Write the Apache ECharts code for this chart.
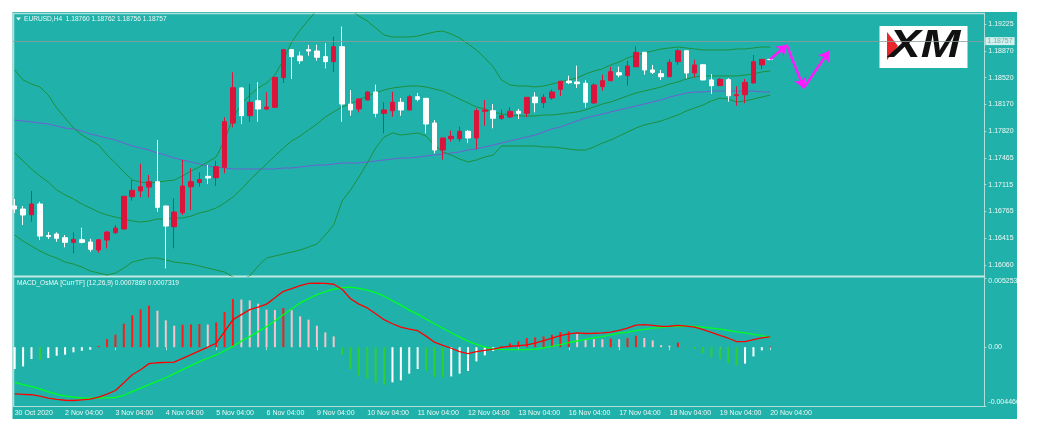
<!DOCTYPE html>
<html><head><meta charset="utf-8">
<script src="https://cdn.jsdelivr.net/npm/echarts@6/dist/echarts.min.js"></script>
<style>html,body{margin:0;padding:0;background:#fff}#c{width:1038px;height:436px}</style>
</head><body><div id="c"></div>
<script>
const dayLabels = ['30 Oct 2020','2 Nov 04:00','3 Nov 04:00','4 Nov 04:00','5 Nov 04:00','6 Nov 04:00','9 Nov 04:00','10 Nov 04:00','11 Nov 04:00','12 Nov 04:00','13 Nov 04:00','16 Nov 04:00','17 Nov 04:00','18 Nov 04:00','19 Nov 04:00','20 Nov 04:00'];
const priceTicks = [1.19225,1.18870,1.18520,1.18170,1.17820,1.17465,1.17115,1.16765,1.16415,1.16060];
const macdTicks = [0.0052537, 0, -0.004466];

const open = [1.16835,1.16795,1.16721,1.16861,1.16447,1.16467,1.16419,1.16358,1.16392,1.16362,
1.16257,1.16388,1.16484,1.16533,1.16957,1.17032,1.17084,1.17154,1.16835,1.16563,
1.16747,1.17088,1.17143,1.17225,1.17206,1.17343,1.17925,1.18385,1.18021,1.18218,
1.18109,1.18131,1.18520,1.18888,1.18805,1.18888,1.18870,1.18796,1.18730,1.18927,
1.18174,1.18109,1.18227,1.18332,1.18052,1.18086,1.18197,1.18096,1.18270,1.18249,
1.17925,1.17570,1.17719,1.17719,1.17816,1.17728,1.18079,1.18086,1.17987,1.18004,
1.18079,1.18052,1.18266,1.18191,1.18253,1.18367,1.18476,1.18463,1.18446,1.18188,
1.18402,1.18480,1.18585,1.18546,1.18664,1.18853,1.18621,1.18572,1.18533,1.18730,
1.18874,1.18581,1.18690,1.18490,1.18415,1.18494,1.18283,1.18297,1.18450,1.18687,1.18760];
const close = [1.16795,1.16717,1.16861,1.16441,1.16434,1.16411,1.16358,1.16397,1.16358,1.16266,
1.16392,1.16493,1.16546,1.16962,1.17041,1.17088,1.17154,1.16818,1.16572,1.16756,
1.17097,1.17154,1.17183,1.17203,1.17351,1.17942,1.18388,1.18021,1.18197,1.18109,
1.18135,1.18525,1.18888,1.18796,1.18743,1.18870,1.18788,1.18730,1.18927,1.18174,
1.18096,1.18240,1.18332,1.18052,1.18096,1.18197,1.18096,1.18270,1.18236,1.17912,
1.17570,1.17728,1.17750,1.17816,1.17728,1.18086,1.18096,1.17987,1.18021,1.18079,
1.18052,1.18262,1.18191,1.18262,1.18332,1.18473,1.18454,1.18441,1.18197,1.18424,
1.18480,1.18599,1.18555,1.18673,1.18853,1.18621,1.18591,1.18533,1.18722,1.18874,
1.18581,1.18687,1.18490,1.18415,1.18499,1.18283,1.18297,1.18459,1.18730,1.18761,1.18757];
const high = [1.16927,1.16835,1.17032,1.16891,1.16493,1.16489,1.16454,1.16489,1.16550,1.16405,
1.16397,1.16507,1.16585,1.16970,1.17176,1.17390,1.17242,1.17702,1.16840,1.16936,
1.17439,1.17330,1.17277,1.17373,1.17430,1.18000,1.18591,1.18394,1.18437,1.18459,
1.18328,1.18529,1.18897,1.18897,1.18861,1.18949,1.18953,1.18972,1.19058,1.19190,
1.18358,1.18245,1.18341,1.18428,1.18197,1.18336,1.18253,1.18293,1.18319,1.18253,
1.17964,1.17733,1.17824,1.17876,1.17833,1.18118,1.18227,1.18174,1.18100,1.18131,
1.18109,1.18266,1.18328,1.18306,1.18362,1.18477,1.18546,1.18677,1.18490,1.18446,
1.18559,1.18664,1.18664,1.18743,1.18932,1.18857,1.18687,1.18621,1.18765,1.18897,
1.18877,1.18756,1.18693,1.18568,1.18516,1.18512,1.18407,1.18503,1.18818,1.18765,1.18762];
const low = [1.16743,1.16585,1.16629,1.16388,1.16401,1.16366,1.16292,1.16214,1.16345,1.16235,
1.16222,1.16279,1.16467,1.16520,1.16904,1.16949,1.16949,1.16760,1.16017,1.16279,
1.16717,1.16782,1.17091,1.17124,1.17101,1.17264,1.17868,1.17912,1.17942,1.17942,
1.18096,1.18122,1.18450,1.18503,1.18700,1.18809,1.18743,1.18643,1.18591,1.17942,
1.18021,1.18065,1.18222,1.18000,1.17790,1.18008,1.18021,1.18092,1.18210,1.17790,
1.17527,1.17443,1.17679,1.17679,1.17662,1.17583,1.17889,1.17855,1.17964,1.17990,
1.17977,1.18000,1.18065,1.18122,1.18231,1.18279,1.18437,1.18385,1.18128,1.18174,
1.18349,1.18476,1.18525,1.18415,1.18656,1.18559,1.18568,1.18490,1.18529,1.18690,
1.18512,1.18525,1.18486,1.18306,1.18411,1.18205,1.18152,1.18184,1.18446,1.18634,1.18756];

const upperBand = [1.18621,1.18490,1.18437,1.18398,1.18292,1.18122,1.17991,1.17859,1.17767,1.17702,
1.17636,1.17505,1.17400,1.17282,1.17176,1.17150,1.17137,1.17150,1.17163,1.17176,
1.17229,1.17295,1.17347,1.17413,1.17478,1.17702,1.17991,1.18174,1.18292,1.18384,
1.18450,1.18555,1.18752,1.18989,1.19146,1.19278,1.19409,1.19475,1.19501,1.19475,
1.19409,1.19330,1.19264,1.19173,1.19081,1.19054,1.19054,1.19054,1.19067,1.19094,
1.19120,1.19133,1.19094,1.19041,1.18963,1.18884,1.18779,1.18661,1.18490,1.18424,
1.18411,1.18411,1.18398,1.18411,1.18437,1.18463,1.18490,1.18516,1.18568,1.18608,
1.18634,1.18687,1.18726,1.18779,1.18818,1.18844,1.18871,1.18897,1.18910,1.18923,
1.18910,1.18897,1.18884,1.18884,1.18884,1.18884,1.18897,1.18897,1.18910,1.18923,1.18923];
const middleBand = [1.17531,1.17426,1.17321,1.17229,1.17150,1.17045,1.16980,1.16927,1.16861,1.16809,
1.16756,1.16717,1.16690,1.16664,1.16638,1.16625,1.16638,1.16664,1.16664,1.16677,
1.16677,1.16703,1.16743,1.16769,1.16809,1.16874,1.16953,1.17058,1.17176,1.17282,
1.17387,1.17492,1.17597,1.17689,1.17754,1.17833,1.17912,1.18004,1.18070,1.18135,
1.18174,1.18227,1.18280,1.18319,1.18358,1.18384,1.18398,1.18411,1.18411,1.18398,
1.18371,1.18345,1.18292,1.18240,1.18188,1.18135,1.18109,1.18070,1.18043,1.18030,
1.18017,1.18017,1.18017,1.18030,1.18030,1.18043,1.18056,1.18070,1.18096,1.18135,
1.18174,1.18201,1.18240,1.18280,1.18319,1.18345,1.18371,1.18398,1.18437,1.18463,
1.18503,1.18529,1.18542,1.18542,1.18542,1.18542,1.18542,1.18555,1.18568,1.18595,1.18608];
const lowerBand = [1.16454,1.16375,1.16310,1.16244,1.16191,1.16152,1.16099,1.16073,1.16034,1.15981,
1.15955,1.15929,1.15955,1.16021,1.16099,1.16126,1.16152,1.16152,1.16126,1.16099,
1.16086,1.16073,1.16047,1.16021,1.15994,1.15968,1.15902,1.15876,1.15915,1.16047,
1.16152,1.16178,1.16205,1.16231,1.16257,1.16296,1.16336,1.16454,1.16586,1.16901,
1.17045,1.17216,1.17400,1.17597,1.17741,1.17794,1.17767,1.17780,1.17794,1.17754,
1.17636,1.17544,1.17505,1.17452,1.17413,1.17439,1.17478,1.17505,1.17623,1.17623,
1.17623,1.17623,1.17623,1.17610,1.17610,1.17597,1.17584,1.17570,1.17570,1.17610,
1.17662,1.17702,1.17754,1.17807,1.17859,1.17899,1.17925,1.17951,1.17991,1.18030,
1.18082,1.18122,1.18161,1.18214,1.18253,1.18240,1.18201,1.18214,1.18240,1.18266,1.18292];
const maLine = [1.17964,1.17951,1.17938,1.17925,1.17912,1.17885,1.17859,1.17846,1.17820,1.17780,
1.17754,1.17728,1.17702,1.17662,1.17623,1.17597,1.17570,1.17531,1.17505,1.17465,
1.17439,1.17413,1.17387,1.17360,1.17347,1.17334,1.17321,1.17321,1.17321,1.17321,
1.17321,1.17321,1.17334,1.17334,1.17347,1.17360,1.17373,1.17373,1.17387,1.17400,
1.17400,1.17400,1.17413,1.17426,1.17439,1.17452,1.17465,1.17465,1.17478,1.17492,
1.17505,1.17518,1.17531,1.17544,1.17570,1.17584,1.17610,1.17636,1.17662,1.17689,
1.17715,1.17741,1.17767,1.17807,1.17846,1.17872,1.17912,1.17951,1.17991,1.18017,
1.18043,1.18070,1.18096,1.18122,1.18148,1.18174,1.18201,1.18227,1.18266,1.18292,
1.18319,1.18332,1.18332,1.18345,1.18345,1.18345,1.18345,1.18345,1.18345,1.18332,1.18332];

const macdMain = [-0.00355,-0.00358,-0.00361,-0.00372,-0.00386,-0.00397,-0.00403,-0.00405,-0.00400,-0.00395,
-0.00380,-0.00357,-0.00329,-0.00270,-0.00209,-0.00171,-0.00125,-0.00118,-0.00115,-0.00113,
-0.00085,-0.00057,-0.00028,0.00000,0.00030,0.00118,0.00209,0.00247,0.00285,0.00304,
0.00327,0.00376,0.00424,0.00444,0.00467,0.00484,0.00487,0.00485,0.00478,0.00440,
0.00368,0.00327,0.00298,0.00254,0.00209,0.00178,0.00152,0.00137,0.00125,0.00084,
0.00038,0.00014,-0.00008,-0.00034,-0.00049,-0.00033,-0.00024,-0.00015,-0.00002,0.00007,
0.00011,0.00017,0.00030,0.00049,0.00068,0.00087,0.00101,0.00108,0.00104,0.00106,
0.00109,0.00115,0.00127,0.00144,0.00167,0.00171,0.00165,0.00158,0.00159,0.00166,
0.00160,0.00152,0.00133,0.00112,0.00090,0.00068,0.00042,0.00042,0.00057,0.00071,0.0007869];
const macdSignal = [-0.00267,-0.00285,-0.00300,-0.00317,-0.00339,-0.00357,-0.00371,-0.00380,-0.00386,-0.00387,
-0.00386,-0.00385,-0.00382,-0.00365,-0.00338,-0.00311,-0.00285,-0.00258,-0.00232,-0.00201,
-0.00171,-0.00140,-0.00110,-0.00084,-0.00059,-0.00027,0.00006,0.00046,0.00080,0.00118,
0.00156,0.00201,0.00247,0.00292,0.00336,0.00368,0.00399,0.00421,0.00440,0.00452,
0.00456,0.00446,0.00433,0.00414,0.00387,0.00353,0.00319,0.00281,0.00251,0.00213,
0.00178,0.00144,0.00110,0.00076,0.00046,0.00021,0.00000,-0.00011,-0.00016,-0.00019,
-0.00019,-0.00019,-0.00015,-0.00006,0.00006,0.00019,0.00034,0.00047,0.00060,0.00071,
0.00081,0.00093,0.00106,0.00115,0.00125,0.00135,0.00144,0.00150,0.00156,0.00159,
0.00160,0.00158,0.00152,0.00145,0.00137,0.00127,0.00116,0.00108,0.00098,0.00087,0.0007319];
const osma = [-0.00166,-0.00146,-0.00090,-0.00095,-0.00082,-0.00065,-0.00057,-0.00039,-0.00027,-0.00019,
0.00010,0.00062,0.00095,0.00178,0.00242,0.00287,0.00315,0.00277,0.00204,0.00163,
0.00171,0.00173,0.00175,0.00172,0.00188,0.00267,0.00366,0.00362,0.00355,0.00330,
0.00285,0.00283,0.00298,0.00280,0.00234,0.00209,0.00163,0.00112,0.00082,-0.00057,
-0.00166,-0.00216,-0.00239,-0.00267,-0.00285,-0.00267,-0.00252,-0.00201,-0.00166,-0.00178,
-0.00226,-0.00229,-0.00222,-0.00201,-0.00181,-0.00108,-0.00062,-0.00029,0.00008,0.00029,
0.00044,0.00070,0.00075,0.00082,0.00095,0.00115,0.00120,0.00100,0.00062,0.00061,
0.00060,0.00066,0.00060,0.00070,0.00087,0.00070,0.00052,0.00015,0.00012,0.00035,
-0.00005,-0.00014,-0.00044,-0.00077,-0.00090,-0.00120,-0.00138,-0.00125,-0.00070,-0.00024,0.000055];

const forecastSegments = [
  [[90, 1.18762], [92, 1.18949]],
  [[92, 1.18935], [94, 1.18385]],
  [[94, 1.18385], [97, 1.18870]]
];

// ---- build ----
const SLOTS = 116;
const cats = Array.from({length: SLOTS}, (_, i) => 'b' + i);
const candles = open.map((o, i) => [o, close[i], low[i], high[i]]);
const histData = osma.map((v, i) => {
  const prev = i > 0 ? osma[i - 1] : v;
  let c;
  if (v >= 0) c = v >= prev ? '#ff1a1a' : '#ffc0cb';
  else c = v < prev ? '#32cd32' : '#ffffff';
  return {value: v, itemStyle: {color: c}};
});
const last = open.length - 1;
const txt = '#eef8f7';
const FF = '"Liberation Sans", Arial, sans-serif';
const bc = '#b0dfda';
const labelIdx = (i) => i % 6 === 0 && i / 6 < dayLabels.length;

const chart = echarts.init(document.getElementById('c'), null, {renderer: 'canvas'});
chart.setOption({
  animation: false,
  backgroundColor: '#ffffff',
  grid: [
    {left: 10.5, width: 973.8, top: 14, height: 262, show: false},
    {left: 10.5, width: 973.8, top: 278, height: 128, show: false}
  ],
  xAxis: [
    {type: 'category', gridIndex: 0, data: cats, boundaryGap: true, show: false},
    {type: 'category', gridIndex: 1, data: cats, boundaryGap: true,
     axisLine: {show: false},
     axisTick: {show: true, interval: labelIdx, alignWithLabel: true, length: 3, lineStyle: {color: bc}},
     axisLabel: {interval: labelIdx, formatter: (v, i) => dayLabels[i / 6] || '', align: 'left',
       color: txt, fontSize: 7, fontFamily: FF, margin: 4, hideOverlap: false}}
  ],
  yAxis: [
    {type: 'value', gridIndex: 0, position: 'right', min: 1.15916, max: 1.19356,
     splitLine: {show: false}, axisLine: {show: false},
     axisTick: {show: true, customValues: priceTicks, length: 2, lineStyle: {color: bc}},
     axisLabel: {customValues: priceTicks, formatter: v => v.toFixed(5), color: txt, fontSize: 7, fontFamily: FF, margin: 4}},
    {type: 'value', gridIndex: 1, position: 'right', min: -0.004466, max: 0.0052537,
     splitLine: {show: false}, axisLine: {show: false},
     axisTick: {show: true, customValues: macdTicks, length: 2, lineStyle: {color: bc}},
     axisLabel: {customValues: macdTicks,
       formatter: v => v > 0 ? '{t|' + v + '}' : (v < 0 ? '{b|' + v + '}' : '0.00'),
       rich: {t: {padding: [7, 0, 0, 0], color: txt, fontSize: 7, fontFamily: FF},
              b: {padding: [0, 0, 7, 0], color: txt, fontSize: 7, fontFamily: FF}},
       color: txt, fontSize: 7, fontFamily: FF, margin: 4}}
  ],
  series: [
    {type: 'line', name: 'MA', xAxisIndex: 0, yAxisIndex: 0, data: maLine, showSymbol: false,
     lineStyle: {color: '#6f5fd0', width: 1}, z: 2},
    {type: 'line', name: 'BB upper', xAxisIndex: 0, yAxisIndex: 0, data: upperBand, showSymbol: false,
     lineStyle: {color: '#1f8f3c', width: 1}, z: 2},
    {type: 'line', name: 'BB middle', xAxisIndex: 0, yAxisIndex: 0, data: middleBand, showSymbol: false,
     lineStyle: {color: '#1f8f3c', width: 1}, z: 2},
    {type: 'line', name: 'BB lower', xAxisIndex: 0, yAxisIndex: 0, data: lowerBand, showSymbol: false,
     lineStyle: {color: '#1f8f3c', width: 1}, z: 2},
    {type: 'candlestick', name: 'EURUSD', xAxisIndex: 0, yAxisIndex: 0, data: candles, barWidth: 5, z: 3,
     itemStyle: {color: '#dc143c', color0: '#ffffff', borderColor: '#dc143c', borderColor0: '#ffffff', borderWidth: 1},
     markLine: {silent: true, symbol: ['none', 'none'], animation: false,
       data: [{yAxis: close[last]}],
       lineStyle: {color: '#8e9c9a', width: 1, type: 'solid', opacity: 0.8},
       label: {position: 'end', formatter: () => close[last].toFixed(5), backgroundColor: '#ffffff',
         color: '#5f9f9a', fontSize: 7, fontFamily: FF, padding: [1, 2, 0, 2], distance: 1}}},
    {type: 'lines', coordinateSystem: 'cartesian2d', xAxisIndex: 0, yAxisIndex: 0, z: 6,
     data: forecastSegments.map(s => ({coords: s})),
     symbol: ['none', 'arrow'], symbolSize: 10,
     lineStyle: {color: '#ff1aff', width: 2.5, opacity: 1, curveness: 0}},
    {type: 'bar', name: 'OsMA', xAxisIndex: 1, yAxisIndex: 1, data: histData, barWidth: 2, z: 2},
    {type: 'line', name: 'Signal', xAxisIndex: 1, yAxisIndex: 1, data: macdSignal, showSymbol: false,
     lineStyle: {color: '#00ff1e', width: 1.3}, z: 3},
    {type: 'line', name: 'MACD', xAxisIndex: 1, yAxisIndex: 1, data: macdMain, showSymbol: false,
     lineStyle: {color: '#ff0000', width: 1.3}, z: 4}
  ],
  graphic: [
    {type: 'rect', z: -10, shape: {x: 12, y: 12, width: 1005, height: 407}, style: {fill: '#20b2aa'}},
    {type: 'line', z: 1, shape: {x1: 13.5, y1: 13, x2: 13.5, y2: 407}, style: {stroke: bc, lineWidth: 1.5}},
    {type: 'line', z: 1, shape: {x1: 13, y1: 13.5, x2: 985, y2: 13.5}, style: {stroke: bc, lineWidth: 1.5}},
    {type: 'line', z: 1, shape: {x1: 984.5, y1: 13, x2: 984.5, y2: 407}, style: {stroke: bc, lineWidth: 1}},
    {type: 'line', z: 1, shape: {x1: 13, y1: 276.5, x2: 985, y2: 276.5}, style: {stroke: '#c4e8e4', lineWidth: 2}},
    {type: 'line', z: 1, shape: {x1: 13, y1: 406.5, x2: 985, y2: 406.5}, style: {stroke: bc, lineWidth: 1}},
    {type: 'rect', z: 100, shape: {x: 0, y: 0, width: 12.5, height: 436}, style: {fill: '#ffffff'}},
    {type: 'rect', z: 100, shape: {x: 1017, y: 0, width: 21, height: 436}, style: {fill: '#ffffff'}},
    {type: 'polygon', z: 10, shape: {points: [[16, 17.5], [21, 17.5], [18.5, 20.5]]}, style: {fill: txt}},
    {type: 'text', z: 10, x: 24, y: 19, style: {
      text: 'EURUSD,H4  ' + [open[last], high[last], low[last], close[last]].map(v => v.toFixed(5)).join(' '),
      fill: txt, fontSize: 6.6, fontFamily: FF, verticalAlign: 'middle'}},
    {type: 'text', z: 10, x: 17, y: 283, style: {
      text: 'MACD_OsMA [CurrTF] (12,26,9) ' + macdMain[last].toFixed(7) + ' ' + macdSignal[last].toFixed(7),
      fill: txt, fontSize: 6.6, fontFamily: FF, verticalAlign: 'middle'}},
    {type: 'group', z: 20, children: [
      {type: 'rect', shape: {x: 879.5, y: 26, width: 88, height: 42}, style: {fill: '#ffffff'}},
      {type: 'polygon', shape: {points: [[887, 32], [898, 46], [887, 60]]}, style: {fill: '#e8262b'}},
      {type: 'text', x: 889, y: 46.5, scaleX: 1.22, style: {text: 'XM', fill: '#111111', fontSize: 39, fontWeight: 'bold',
        fontStyle: 'italic', fontFamily: FF, verticalAlign: 'middle'}}
    ]}
  ]
});
</script></body></html>
